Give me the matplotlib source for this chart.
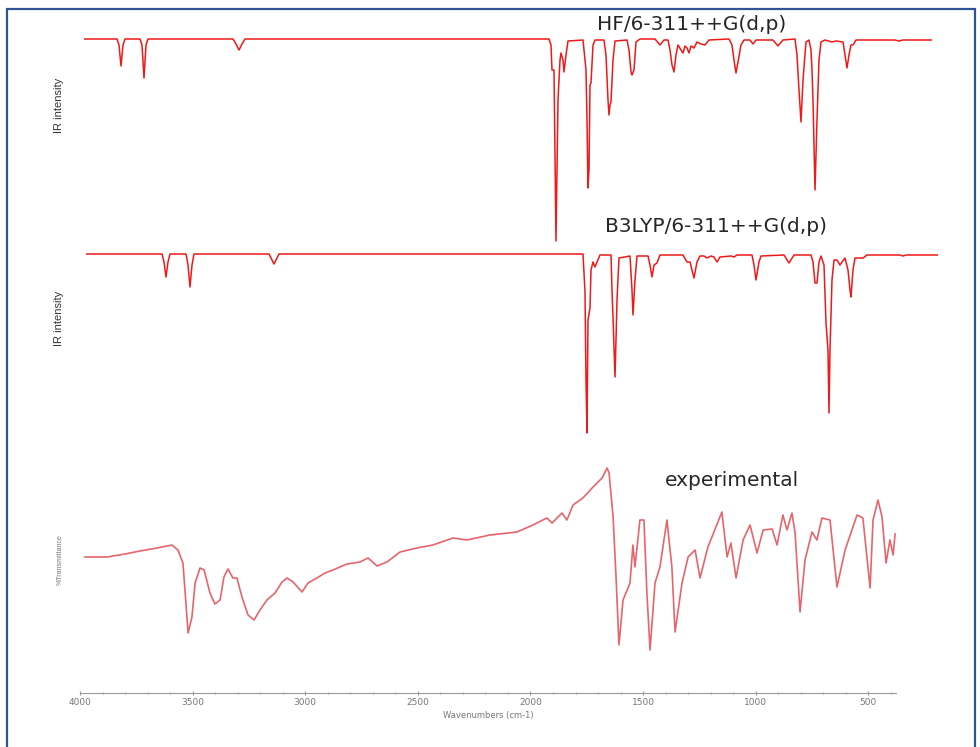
import matplotlib
matplotlib.use("Agg")
import matplotlib.pyplot as plt
from matplotlib.patches import Rectangle
from matplotlib.ticker import MultipleLocator

# HF/6-311++G(d,p) calculated spectrum (wavenumber, IR intensity, arb. units)
hf_wavenumber = [
    4000, 3851.5, 3842.5, 3833.5, 3824.5, 3815.5, 3748, 3739, 3730, 3721, 3712,
    3329.5, 3316, 3302.5, 3289, 3275.5,
    1907.5, 1898.5, 1894, 1885, 1876, 1867, 1858, 1853.5, 1844.5, 1840, 1831, 1822,
    1754.5, 1741, 1736.5, 1732, 1727.5, 1723, 1718.5, 1709.5, 1700.5,
    1660, 1651, 1642, 1637.5, 1633, 1628.5, 1619.5, 1610.5,
    1556.5, 1547.5, 1538.5, 1534, 1525, 1516, 1498,
    1430.5, 1408, 1390, 1372, 1363, 1354, 1345, 1336, 1327, 1313.5, 1304.5, 1295.5,
    1286.5, 1277.5, 1268.5, 1255, 1241.5, 1223.5, 1205.5, 1187.5,
    1097.5, 1084, 1075, 1066, 1057, 1043.5, 1030, 1003, 989.5, 976,
    899.5, 877, 854.5, 800.5, 791.5, 782.5, 773.5, 764.5, 751, 737.5,
    728.5, 724, 719.5, 710.5, 701.5, 692.5, 683.5, 665.5, 634, 616,
    584.5, 575.5, 566.5, 557.5, 548.5, 539.5, 526, 350.5, 332.5, 314.5, 184,
]
hf_intensity = [
    0, 0, 3, 13.5, 3, 0, 0, 3, 19.5, 3, 0,
    0, 2.5, 5.5, 2.5, 0,
    0, 3, 15.5, 15.5, 101, 30.5, 10.5, 7, 10.5, 16.5, 8, 1,
    0.5, 15.5, 40.5, 74.5, 65.5, 23, 22, 3, 0.5,
    0.5, 8, 30.5, 38, 33, 31.5, 10.5, 1,
    0.5, 5.5, 16.5, 18, 15.5, 1.5, 0,
    0, 3, 0.5, 0.5, 5.5, 13, 16.5, 8, 3, 5.5, 7, 3.5,
    4.5, 7, 3.5, 4.5, 1.5, 2.5, 3, 0.5,
    0, 3, 10.5, 17, 11.5, 3, 0.5, 0.5, 2.5, 0.5,
    0.5, 3.5, 0.5, 0, 8, 25.5, 41.5, 20.5, 1.5, 0.5,
    5.5, 15.5, 30.5, 75.5, 40.5, 10.5, 1.5, 0.5, 1.5, 1,
    1.5, 8, 14.5, 8, 3, 3, 0.5, 0.5, 1, 0.5, 0.5,
]

# B3LYP/6-311++G(d,p) calculated spectrum
b3_wavenumber = [
    4000, 3658, 3649, 3640, 3631, 3622, 3550, 3541, 3532, 3523, 3514,
    3176.5, 3163, 3154, 3145, 3131.5,
    1763.5, 1754.5, 1750, 1745.5, 1741, 1732, 1727.5, 1718.5, 1709.5, 1700.5, 1687,
    1637.5, 1633, 1628.5, 1619.5, 1615, 1610.5, 1601.5,
    1552, 1543, 1538.5, 1529.5, 1520.5,
    1471, 1462, 1453, 1444, 1430.5, 1417,
    1313.5, 1295.5, 1282, 1264, 1250.5, 1237, 1219, 1205.5, 1187.5, 1174, 1160.5, 1147,
    1097.5, 1084, 1070.5, 1003, 994, 985, 976, 971.5, 962.5,
    859, 836.5, 814, 737.5, 728.5, 719.5, 710.5, 701.5, 692.5,
    679, 670, 661, 656.5, 652, 643, 634, 620.5, 607, 598, 584.5,
    571, 562, 557.5, 548.5, 539.5, 517, 503.5, 485.5, 337, 323.5, 310, 166,
]
b3_intensity = [
    0, 0, 4, 11.5, 4, 0, 0, 5.5, 16.5, 5.5, 0,
    0, 3, 5, 3, 0,
    0, 19, 63, 89.5, 33, 27, 8, 4, 6.5, 4, 0.5,
    0.5, 18, 31.5, 61.5, 43, 23, 2,
    1, 18, 30.5, 13, 1,
    1, 5.5, 11.5, 5.5, 4.5, 0.5,
    0.5, 4, 4, 12, 4, 1, 1, 2, 1, 1.5, 4, 1.5,
    1, 1.5, 0.5, 0.5, 5.5, 13, 7, 4, 1,
    0.5, 4.5, 0.5, 0.5, 4, 14.5, 14.5, 4, 1,
    5.5, 34.5, 48, 79.5, 48, 13, 3, 3, 5.5, 4, 2,
    8, 18, 21.5, 8, 2, 2, 2, 0.5, 0.5, 1, 0.5, 0.5,
]

# experimental FT-IR spectrum (% transmittance)
exp_wavenumber = [
    3978, 3880, 3800, 3734, 3658, 3592, 3565, 3543, 3534, 3520, 3503, 3489, 3467, 3449,
    3423, 3401, 3378, 3361, 3343, 3321, 3303, 3281, 3254, 3227, 3201, 3170, 3134,
    3103, 3081, 3054, 3014, 2988, 2948, 2912, 2877, 2815, 2757, 2721, 2681, 2637,
    2579, 2504, 2433, 2344, 2282, 2180, 2060, 1989, 1927, 1904, 1860, 1838, 1811,
    1767, 1722, 1682, 1660, 1651, 1633, 1620, 1607, 1589, 1558, 1545, 1536, 1514,
    1496, 1483, 1469, 1447, 1425, 1394, 1372, 1358, 1327, 1300, 1269, 1247, 1212,
    1150, 1127, 1110, 1087, 1056, 1025, 994, 967, 927, 905, 879, 861, 839, 825,
    803, 781, 750, 728, 706, 670, 639, 603, 550, 524, 492, 479, 457, 439, 421,
    404, 390, 381,
]
exp_transmittance = [
    51.5, 51.5, 53, 54.5, 56, 57.5, 55, 48.5, 35, 13.5, 21.5, 38.5, 46, 45,
    33.5, 28, 30, 41.5, 45.5, 41, 41, 31.5, 22.5, 20, 25, 30, 33.5,
    39, 41, 39, 34, 38.5, 41, 43.5, 45, 48, 49, 51, 47, 49,
    54, 56, 57.5, 61, 60, 62.5, 64, 67.5, 71, 68.5, 73.5, 70, 77.5,
    81, 86.5, 91, 96, 93.5, 71.5, 41.5, 7.5, 30, 38.5, 57.5, 46.5, 70,
    70, 33.5, 5, 38.5, 46.5, 70, 46.5, 14, 38.5, 51.5, 55, 41, 56.5,
    74, 51.5, 58.5, 41, 60, 67.5, 53.5, 65, 65.5, 57.5, 72.5, 65, 73.5, 63.5,
    24, 50, 64, 60, 71, 70, 36.5, 55, 72.5, 71, 36, 70, 80, 71.5, 48.5,
    60, 52.5, 63,
]
exp_ticks = [4000, 3500, 3000, 2500, 2000, 1500, 1000, 500]

W, H = 980, 747
fig = plt.figure(figsize=(W / 100, H / 100), dpi=100)


def px_axes(x0, y0, x1, y1):
    # axes from pixel box (top-left origin)
    ax = fig.add_axes([x0 / W, 1 - y1 / H, (x1 - x0) / W, (y1 - y0) / H])
    ax.set_facecolor("none")
    return ax


calc_red = "#f01818"

ax_hf = px_axes(84, 20, 932, 250)
ax_hf.plot(hf_wavenumber, hf_intensity, color=calc_red, lw=1.1)
ax_hf.set_xlim(4000, 184)
ax_hf.set_ylim(105.5, -9.5)
ax_hf.axis("off")

ax_b3 = px_axes(86, 240, 938, 440)
ax_b3.plot(b3_wavenumber, b3_intensity, color=calc_red, lw=1.1)
ax_b3.set_xlim(4000, 166)
ax_b3.set_ylim(93, -7)
ax_b3.axis("off")

ax_ex = px_axes(80, 460, 896, 693)
ax_ex.plot(exp_wavenumber, exp_transmittance, color="#e8646c", lw=1.2)
ax_ex.set_xlim(4000, 377)
ax_ex.set_ylim(-16.5, 100)
for side in ["top", "left", "right"]:
    ax_ex.spines[side].set_visible(False)
ax_ex.spines["bottom"].set_color("#999999")
ax_ex.spines["bottom"].set_linewidth(0.8)
ax_ex.set_yticks([])
ax_ex.set_xticks(exp_ticks)
ax_ex.set_xticklabels([str(t) for t in exp_ticks])
ax_ex.xaxis.set_minor_locator(MultipleLocator(100))
ax_ex.tick_params(axis="x", which="major", length=3, width=0.8, color="#999999",
                  labelsize=6.5, labelcolor="#777777", pad=2, direction="inout")
ax_ex.tick_params(axis="x", which="minor", length=2, width=0.6, color="#999999",
                  direction="inout")
ax_ex.set_xlabel("Wavenumbers (cm-1)", fontsize=6, color="#777777", labelpad=3)

# method labels
label_kw = dict(ha="center", va="center", fontsize=14.5, color="#262626",
                family="DejaVu Sans")
fig.text(692 / W, 1 - 24 / H, "HF/6-311++G(d,p)", **label_kw)
fig.text(716 / W, 1 - 227 / H, "B3LYP/6-311++G(d,p)", **label_kw)
fig.text(732 / W, 1 - 481 / H, "experimental", **label_kw)

narrow = ["Liberation Sans Narrow", "Liberation Sans", "DejaVu Sans"]
fig.text(59 / W, 1 - 105 / H, "IR intensity", rotation=90, ha="center", va="center",
         fontsize=8, color="#333333", family=narrow)
fig.text(59 / W, 1 - 318 / H, "IR intensity", rotation=90, ha="center", va="center",
         fontsize=8, color="#333333", family=narrow)
fig.text(60 / W, 1 - 560 / H, "%Transmittance", rotation=90, ha="center", va="center",
         fontsize=5, color="#777777", family=narrow)

# blue frame around the composite
fig.patches.append(Rectangle((7 / W, -0.05), 968 / W, 1.05 - 9 / H,
                             transform=fig.transFigure, fill=False,
                             edgecolor="#2e5496", lw=1.6))

fig.savefig("out.png", dpi=100)
